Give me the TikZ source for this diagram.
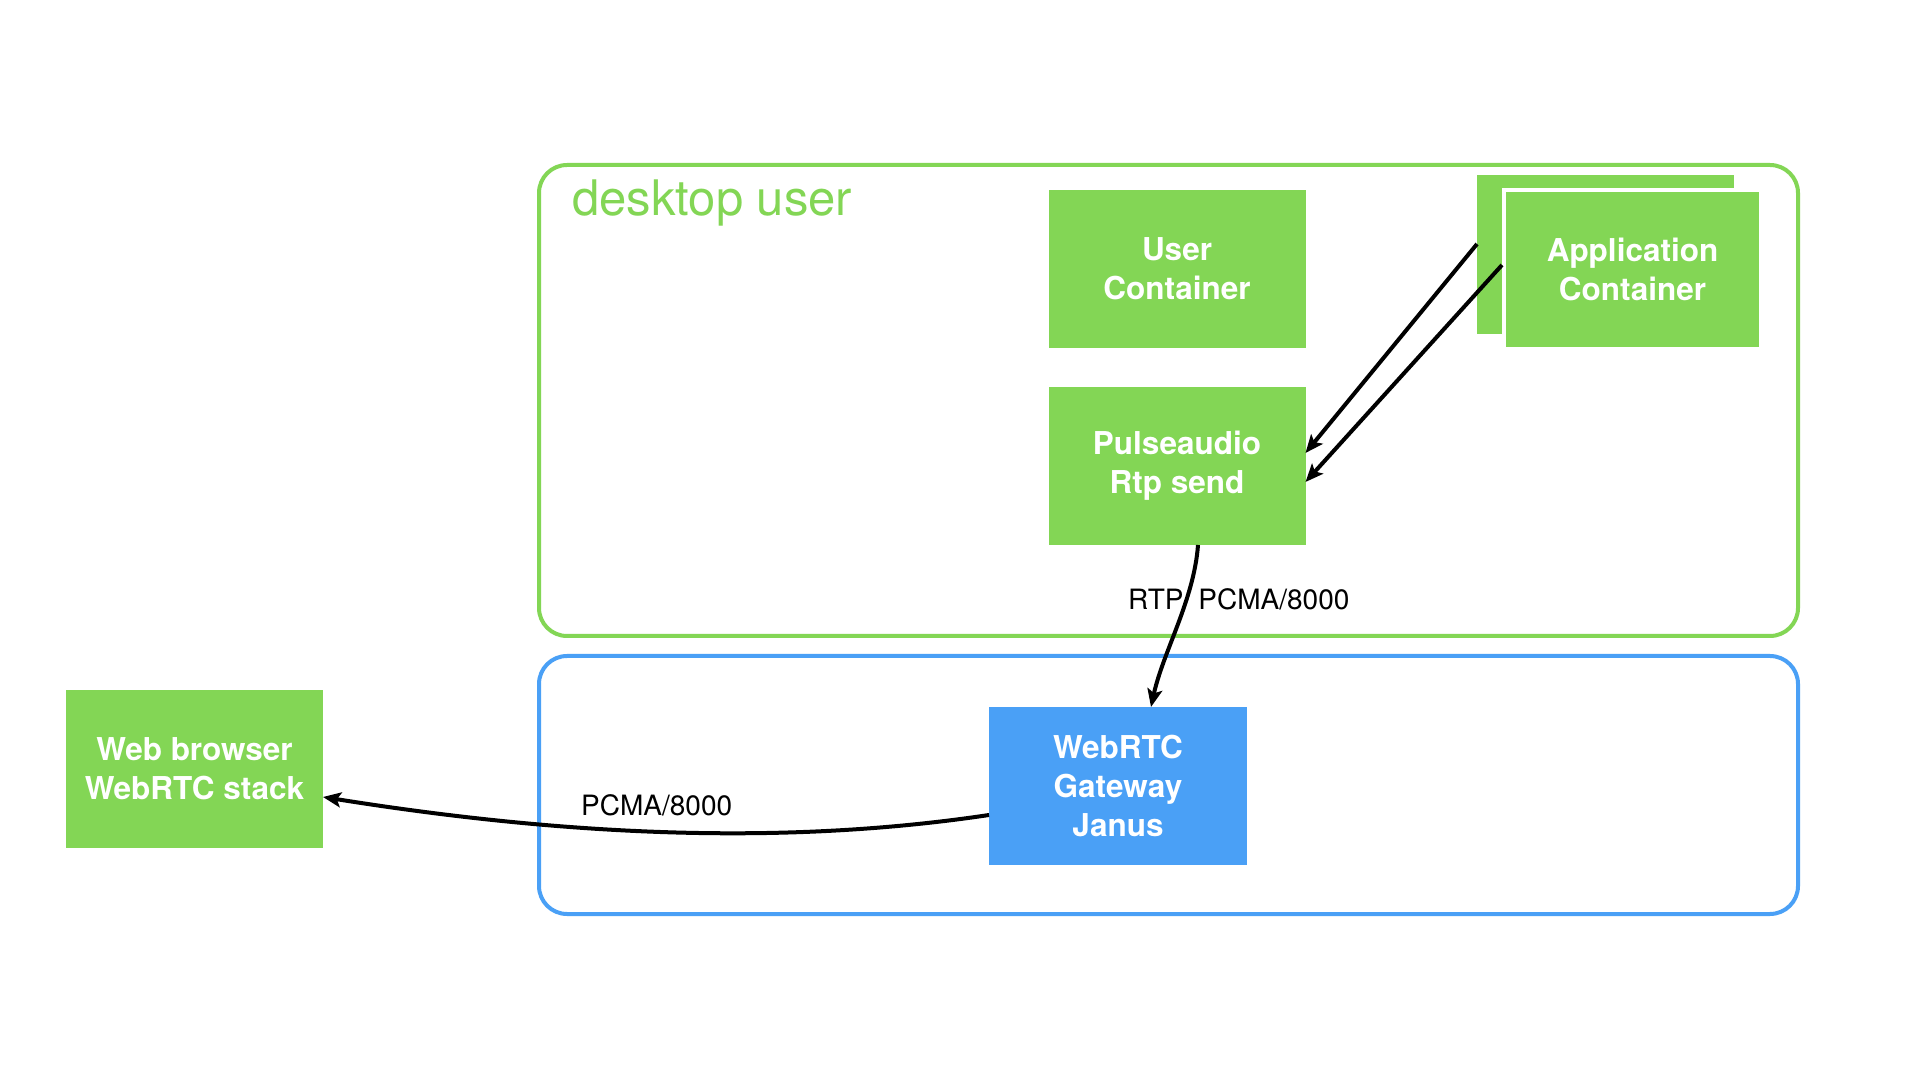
\documentclass[tikz,border=0pt]{standalone}
\usepackage{fontspec}
\setmainfont{TeX Gyre Heros}
\usetikzlibrary{arrows.meta,calc}
\definecolor{kgreen}{RGB}{131,214,85}
\definecolor{kblue}{RGB}{74,160,246}
\begin{document}
\begin{tikzpicture}[x=1pt,y=1pt,
  box/.style={rectangle, fill=kgreen, text=white, font=\fontsize{31.5}{39}\selectfont\bfseries, align=center, minimum width=257pt, minimum height=158pt, inner sep=0pt, outer sep=0pt},
  frame/.style={line width=4pt, rounded corners=28pt},
  flow/.style={line width=4pt, -{Stealth[length=18pt,width=15pt,inset=4pt]}},
  lbl/.style={font=\fontsize{28}{34}\selectfont, text=black, inner sep=0pt}
]
\useasboundingbox[fill=white] (0,0) rectangle (1920,1080);
\draw[frame, kgreen] (539,444) rectangle (1798,915);
\draw[frame, kblue] (539,166) rectangle (1798,424);
\node[anchor=base west, text=kgreen, font=\fontsize{49}{56}\selectfont, inner sep=0pt] (title) at (572,864) {desktop user};

\node[box] (user) at (1177,811) {User\\Container};
\node[box] (pulse) at (1177,614) {Pulseaudio\\Rtp send};
\node[box, minimum height=159pt] (appback) at (1605.5,825.5) {};
\node[box, draw=white, line width=4pt, outer sep=2pt, minimum height=159pt] (appfront) at (1632.5,810.5) {Application\\Container};
\node[box, fill=kblue, minimum width=258pt] (gateway) at (1118,294) {WebRTC\\Gateway\\Janus};
\node[box] (browser) at (194.5,311) {Web browser\\WebRTC stack};

\draw[flow] ([yshift=10.5pt]appback.west) -- ([yshift=13pt]pulse.east);
\draw[flow] ([yshift=4.5pt]appfront.west) -- ([yshift=-16pt]pulse.east);
\draw[flow] ([xshift=21pt]pulse.south) .. controls +(-4,-55) and +(12,55) .. ([xshift=33pt]gateway.north);
\draw[flow] ([yshift=-29pt]gateway.west) .. controls +(-200,-30) and +(250,-40) .. ([yshift=-28pt]browser.east);

\node[lbl, anchor=base west] (rtp) at (1128,470) {RTP\hspace{15pt}PCMA/8000};
\node[lbl, anchor=base west] (pcma) at (581,265) {PCMA/8000};
\end{tikzpicture}
\end{document}
